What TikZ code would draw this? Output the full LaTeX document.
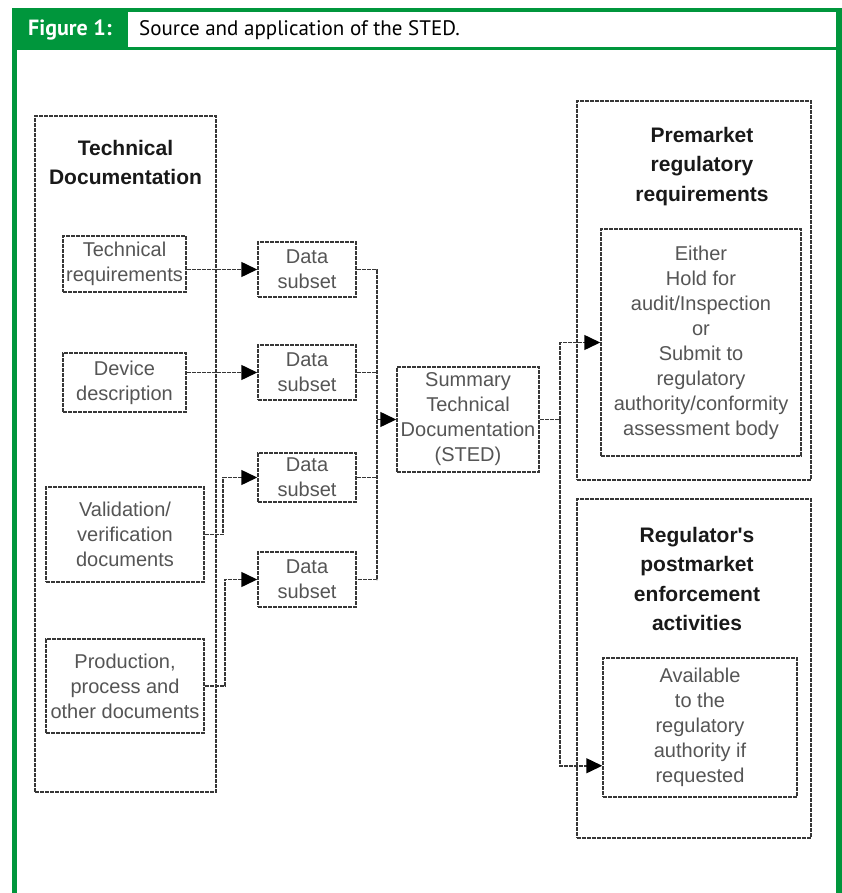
\documentclass[tikz,border=0pt]{standalone}
\usepackage{fontspec}
\usetikzlibrary{arrows.meta}
\newfontfamily\libsans{Liberation Sans}
\newfontfamily\headsans{PT Sans}
\definecolor{framegreen}{RGB}{0,150,60}
\definecolor{linec}{RGB}{55,55,55}
\definecolor{txtc}{RGB}{85,85,85}
\tikzset{
  box/.style={draw=linec, dash pattern=on 4pt off 1pt, line width=1.5pt, inner sep=0pt,
    text=txtc, align=center, font=\libsans\fontsize{20}{25}\selectfont},
  title/.style={inner sep=0pt, align=center, text=black!90,
    font=\libsans\bfseries\fontsize{21}{29.5}\selectfont},
  conn/.style={draw=linec, dash pattern=on 4pt off 1pt, line width=1.5pt},
  arr/.style={conn, -{Triangle[length=16pt,width=15pt,fill=black,color=black]}}
}
\begin{document}
\begin{tikzpicture}[x=1pt,y=-1pt]
\useasboundingbox (0,0) rectangle (842,893);
\fill[white] (0,0) rectangle (842,893);
% frame
\fill[framegreen] (11.7,8) rectangle (842,893);
\fill[white] (17,50) rectangle (836,893);
\fill[white] (128,12.5) rectangle (835.5,47);
\node[inner sep=0pt, anchor=center, text=white, font=\headsans\bfseries\fontsize{22}{24}\selectfont] (figlab) at (70,30) {Figure 1:};
\node[inner sep=0pt, anchor=west, text=black, font=\headsans\fontsize{21}{24}\selectfont] (figtitle) at (139,30) {Source and application of the STED.};

% containers
\node[box, minimum width=181, minimum height=676] (td) at (125.5,454) {};
\node[title] (tdt) at (125.5,162.5) {Technical\\Documentation};
\node[box, minimum width=234, minimum height=379] (preo) at (694,290.5) {};
\node[title] (pret) at (702,166.5) {Premarket\\regulatory\\requirements};
\node[box, minimum width=234, minimum height=339] (posto) at (694,668.5) {};
\node[title] (postt) at (697,579) {Regulator's\\postmarket\\enforcement\\activities};

% inner boxes
\node[box, minimum width=123, minimum height=56] (tr) at (124.5,264) {Technical\\requirements};
\node[box, minimum width=123, minimum height=59] (dd) at (124.5,382.5) {Device\\description};
\node[box, minimum width=158, minimum height=95] (val) at (125,534.5) {Validation/\\verification\\documents};
\node[box, minimum width=158, minimum height=94] (prod) at (125,686) {Production,\\process and\\other documents};
\node[box, minimum width=98, minimum height=55] (ds1) at (307,269.5) {Data\\subset};
\node[box, minimum width=98, minimum height=55] (ds2) at (307,372.5) {Data\\subset};
\node[box, minimum width=98, minimum height=49] (ds3) at (307,477.5) {Data\\subset};
\node[box, minimum width=98, minimum height=55] (ds4) at (307,579.5) {Data\\subset};
\node[box, minimum width=142, minimum height=105] (sted) at (468,419.5) {Summary\\Technical\\Documentation\\(STED)};
\node[box, minimum width=200, minimum height=227] (pre) at (701,342.5) {Either\\Hold for\\audit/Inspection\\or\\Submit to\\regulatory\\authority/conformity\\assessment body};
\node[box, minimum width=194, minimum height=139] (avail) at (700,727.5) {Available\\to the\\regulatory\\authority if\\requested};

% connectors
\draw[arr] (tr.east |- ds1.west) -- (ds1.west);
\draw[arr] (dd.east |- ds2.west) -- (ds2.west);
\draw[arr] (val.east) -- ++(18,0) |- (ds3.west);
\draw[arr] (prod.east) -- ++(20,0) |- (ds4.west);
\draw[conn] (ds1.east) -- ++(20,0) coordinate (t1) -- (t1 |- ds4.east) -- (ds4.east);
\draw[conn] (ds2.east) -- (ds2.east -| t1);
\draw[conn] (ds3.east) -- (ds3.east -| t1);
\draw[arr] (t1 |- sted.west) -- (sted.west);
\draw[conn] (sted.east) -- ++(20,0) coordinate (t2);
\draw[arr] (t2) |- (pre.west);
\draw[arr] (t2) |- ([yshift=32pt]avail.south west);
\end{tikzpicture}
\end{document}
